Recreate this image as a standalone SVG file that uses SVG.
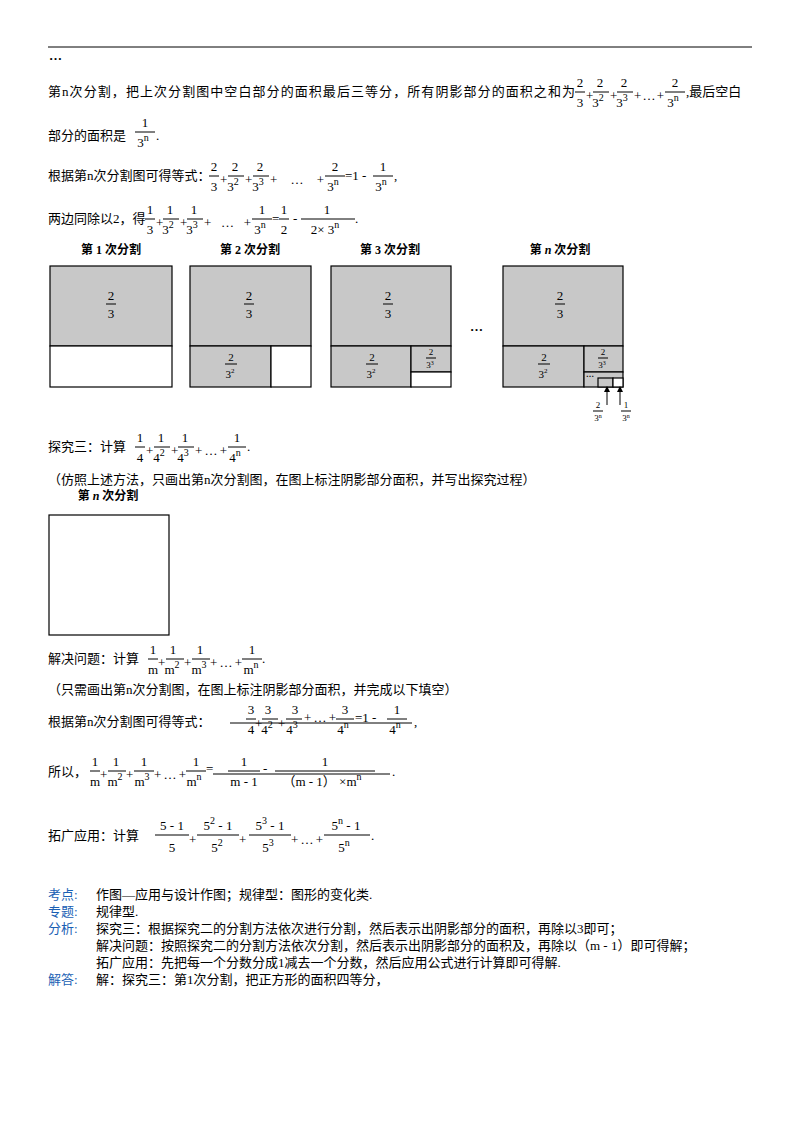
<svg xmlns="http://www.w3.org/2000/svg" width="800" height="1132" viewBox="0 0 800 1132">
<style>
text{font-family:"Liberation Serif","Noto Sans CJK SC",serif;font-size:13px;fill:#000}
.c{text-anchor:middle}
.s{font-size:10px}
.b{fill:#1a5fb4}
.t{font-weight:bold;font-size:12px}
line{stroke:#000;stroke-width:1}
.sh{fill:#c8c8c8;stroke:#000;stroke-width:1.2}
.w{fill:#fff;stroke:#000;stroke-width:1.2}
.fs{font-size:11px}
</style>
<rect width="800" height="1132" fill="#fff"/>
<line x1="48" y1="47" x2="752" y2="47"/>
<text x="49" y="60" font-weight="bold">…</text>

<!-- line 1 -->
<text x="48" y="96" textLength="527">第n次分割，把上次分割图中空白部分的面积最后三等分，所有阴影部分的面积之和为</text>
<text class="c" x="580" y="87">2</text><line x1="575" y1="92" x2="585" y2="92"/><text class="c" x="580" y="107">3</text>
<text x="586" y="100">+</text>
<text class="c" x="600" y="87">2</text><line x1="593" y1="92" x2="609" y2="92"/><text class="c" x="598" y="107">3<tspan class="s" dy="-6">2</tspan></text>
<text x="610" y="100">+</text>
<text class="c" x="624" y="87">2</text><line x1="617" y1="92" x2="633" y2="92"/><text class="c" x="622" y="107">3<tspan class="s" dy="-6">3</tspan></text>
<text x="634" y="100" textLength="30">+…+</text>
<text class="c" x="675" y="87">2</text><line x1="665" y1="92" x2="685" y2="92"/><text class="c" x="673" y="107">3<tspan class="s" dy="-6">n</tspan></text>
<text x="686" y="96">,最后空白</text>
<text x="48" y="140">部分的面积是</text>
<text class="c" x="145" y="127">1</text><line x1="135" y1="132" x2="155" y2="132"/><text class="c" x="143" y="147">3<tspan class="s" dy="-6">n</tspan></text>
<text x="156" y="140">.</text>

<!-- line 3 -->
<text x="48" y="180">根据第n次分割图可得等式：</text>
<text class="c" x="214" y="171">2</text><line x1="209" y1="176" x2="219" y2="176"/><text class="c" x="214" y="191">3</text>
<text x="220" y="184">+</text>
<text class="c" x="235" y="171">2</text><line x1="228" y1="176" x2="244" y2="176"/><text class="c" x="233" y="191">3<tspan class="s" dy="-6">2</tspan></text>
<text x="245" y="184">+</text>
<text class="c" x="260" y="171">2</text><line x1="253" y1="176" x2="269" y2="176"/><text class="c" x="258" y="191">3<tspan class="s" dy="-6">3</tspan></text>
<text x="270" y="184" textLength="54">+…+</text>
<text class="c" x="335" y="171">2</text><line x1="325" y1="176" x2="345" y2="176"/><text class="c" x="333" y="191">3<tspan class="s" dy="-6">n</tspan></text>
<text x="345" y="180">=1 -</text>
<text class="c" x="383" y="171">1</text><line x1="373" y1="176" x2="393" y2="176"/><text class="c" x="381" y="191">3<tspan class="s" dy="-6">n</tspan></text>
<text x="394" y="180">,</text>

<!-- line 4 -->
<text x="48" y="223">两边同除以2，得</text>
<text class="c" x="150" y="214">1</text><line x1="145" y1="219" x2="155" y2="219"/><text class="c" x="150" y="234">3</text>
<text x="156" y="227">+</text>
<text class="c" x="170" y="214">1</text><line x1="163" y1="219" x2="179" y2="219"/><text class="c" x="168" y="234">3<tspan class="s" dy="-6">2</tspan></text>
<text x="180" y="227">+</text>
<text class="c" x="194" y="214">1</text><line x1="187" y1="219" x2="203" y2="219"/><text class="c" x="192" y="234">3<tspan class="s" dy="-6">3</tspan></text>
<text x="204" y="227" textLength="47">+…+</text>
<text class="c" x="262" y="214">1</text><line x1="252" y1="219" x2="272" y2="219"/><text class="c" x="260" y="234">3<tspan class="s" dy="-6">n</tspan></text>
<text x="272" y="223">=</text>
<text class="c" x="284" y="214">1</text><line x1="279" y1="219" x2="289" y2="219"/><text class="c" x="284" y="234">2</text>
<text x="293" y="223">-</text>
<text class="c" x="327" y="214">1</text><line x1="301" y1="219" x2="355" y2="219"/><text class="c" x="325" y="234">2× 3<tspan class="s" dy="-6">n</tspan></text>
<text x="355" y="223">.</text>

<!-- figures -->
<g id="fig1">
<text class="t c" x="111" y="254">第 1 次分割</text>
<rect class="sh" x="50" y="266" width="122" height="80"/>
<rect class="w" x="50" y="346" width="122" height="41"/>
<text class="c" x="111" y="300">2</text><line x1="106" y1="304" x2="116" y2="304"/><text class="c" x="111" y="318">3</text>
</g>
<g id="fig2">
<text class="t c" x="250" y="254">第 2 次分割</text>
<rect class="sh" x="190" y="266" width="121" height="80"/>
<rect class="sh" x="190" y="346" width="81" height="41"/>
<rect class="w" x="271" y="346" width="40" height="41"/>
<text class="c" x="249" y="300">2</text><line x1="244" y1="304" x2="254" y2="304"/><text class="c" x="249" y="318">3</text>
<text class="c fs" x="231" y="361">2</text><line x1="225" y1="364" x2="237" y2="364"/><text class="c fs" x="230" y="378">3<tspan style="font-size:7px" dy="-5">2</tspan></text>
</g>
<g id="fig3">
<text class="t c" x="390" y="254">第 3 次分割</text>
<rect class="sh" x="331" y="266" width="120" height="80"/>
<rect class="sh" x="331" y="346" width="80" height="41"/>
<rect class="sh" x="411" y="346" width="40" height="26"/>
<rect class="w" x="411" y="372" width="40" height="15"/>
<text class="c" x="388" y="300">2</text><line x1="383" y1="304" x2="393" y2="304"/><text class="c" x="388" y="318">3</text>
<text class="c fs" x="372" y="361">2</text><line x1="366" y1="364" x2="378" y2="364"/><text class="c fs" x="371" y="378">3<tspan style="font-size:7px" dy="-5">2</tspan></text>
<text class="c" style="font-size:9px" x="431" y="355">2</text><line x1="426" y1="358" x2="436" y2="358"/><text class="c" style="font-size:9px" x="430" y="368">3<tspan style="font-size:6px" dy="-3">3</tspan></text>
</g>
<text x="470" y="331" font-weight="bold">…</text>
<g id="fign">
<text class="t c" x="560" y="254">第 <tspan font-style="italic">n</tspan> 次分割</text>
<rect class="sh" x="503" y="266" width="120" height="80"/>
<rect class="sh" x="503" y="346" width="81" height="41"/>
<rect class="sh" x="584" y="346" width="39" height="26"/>
<rect class="sh" x="584" y="372" width="39" height="15"/>
<rect class="sh" x="598" y="378" width="15" height="9"/>
<rect class="w" x="613" y="378" width="10" height="9"/>
<text x="586" y="377" style="font-size:8px" font-weight="bold">…</text>
<text class="c" x="560" y="300">2</text><line x1="555" y1="304" x2="565" y2="304"/><text class="c" x="560" y="318">3</text>
<text class="c fs" x="544" y="361">2</text><line x1="538" y1="364" x2="550" y2="364"/><text class="c fs" x="543" y="378">3<tspan style="font-size:7px" dy="-5">2</tspan></text>
<text class="c" style="font-size:9px" x="603" y="355">2</text><line x1="598" y1="358" x2="608" y2="358"/><text class="c" style="font-size:9px" x="602" y="368">3<tspan style="font-size:6px" dy="-3">3</tspan></text>
<line x1="607" y1="405" x2="607" y2="390"/><path d="M604,392 L607,386 L610,392 Z"/>
<line x1="620" y1="405" x2="620" y2="390"/><path d="M617,392 L620,386 L623,392 Z"/>
<text class="c" style="font-size:9px" x="598" y="408">2</text><line x1="593" y1="411" x2="603" y2="411"/><text class="c" style="font-size:9px" x="598" y="421">3<tspan style="font-size:6px" dy="-3">n</tspan></text>
<text class="c" style="font-size:9px" x="626" y="408">1</text><line x1="621" y1="411" x2="631" y2="411"/><text class="c" style="font-size:9px" x="626" y="421">3<tspan style="font-size:6px" dy="-3">n</tspan></text>
</g>

<!-- 探究三 -->
<text x="48" y="451">探究三：计算</text>
<text class="c" x="140" y="442">1</text><line x1="135" y1="447" x2="145" y2="447"/><text class="c" x="140" y="462">4</text>
<text x="146" y="455">+</text>
<text class="c" x="161" y="442">1</text><line x1="154" y1="447" x2="170" y2="447"/><text class="c" x="159" y="462">4<tspan class="s" dy="-6">2</tspan></text>
<text x="171" y="455">+</text>
<text class="c" x="185" y="442">1</text><line x1="178" y1="447" x2="194" y2="447"/><text class="c" x="183" y="462">4<tspan class="s" dy="-6">3</tspan></text>
<text x="195" y="455" textLength="32">+…+</text>
<text class="c" x="237" y="442">1</text><line x1="228" y1="447" x2="246" y2="447"/><text class="c" x="235" y="462">4<tspan class="s" dy="-6">n</tspan></text>
<text x="247" y="451">.</text>
<text x="48" y="484">（仿照上述方法，只画出第n次分割图，在图上标注阴影部分面积，并写出探究过程）</text>
<g id="fig-empty">
<text class="t c" x="108" y="500">第 <tspan font-style="italic">n</tspan> 次分割</text>
<rect x="49" y="515" width="120" height="120" fill="#fff" stroke="#000" stroke-width="1.2"/>
</g>

<!-- 解决问题 -->
<text x="48" y="663">解决问题：计算</text>
<text class="c" x="153" y="654">1</text><line x1="148" y1="659" x2="158" y2="659"/><text class="c" x="153" y="674">m</text>
<text x="158" y="667">+</text>
<text class="c" x="173" y="654">1</text><line x1="166" y1="659" x2="184" y2="659"/><text class="c" x="172" y="674">m<tspan class="s" dy="-6">2</tspan></text>
<text x="184" y="667">+</text>
<text class="c" x="200" y="654">1</text><line x1="192" y1="659" x2="210" y2="659"/><text class="c" x="199" y="674">m<tspan class="s" dy="-6">3</tspan></text>
<text x="210" y="667" textLength="32">+…+</text>
<text class="c" x="252" y="654">1</text><line x1="242" y1="659" x2="262" y2="659"/><text class="c" x="251" y="674">m<tspan class="s" dy="-6">n</tspan></text>
<text x="262" y="663">.</text>
<text x="48" y="694">（只需画出第n次分割图，在图上标注阴影部分面积，并完成以下填空）</text>
<text x="48" y="726">根据第n次分割图可得等式：</text>
<line x1="230" y1="723" x2="412" y2="723"/>
<text class="c" x="251" y="714">3</text><line x1="246" y1="719" x2="256" y2="719"/><text class="c" x="251" y="734">4</text>
<text x="255" y="728">+</text>
<text class="c" x="268" y="714">3</text><line x1="262" y1="719" x2="278" y2="719"/><text class="c" x="267" y="734">4<tspan class="s" dy="-6">2</tspan></text>
<text x="278" y="728">+</text>
<text class="c" x="295" y="714">3</text><line x1="286" y1="719" x2="302" y2="719"/><text class="c" x="292" y="734">4<tspan class="s" dy="-6">3</tspan></text>
<text x="304" y="722" textLength="32">+…+</text>
<text class="c" x="345" y="714">3</text><line x1="336" y1="719" x2="354" y2="719"/><text class="c" x="343" y="734">4<tspan class="s" dy="-6">n</tspan></text>
<text x="355" y="722">=1 -</text>
<text class="c" x="397" y="714">1</text><line x1="387" y1="719" x2="407" y2="719"/><text class="c" x="395" y="734">4<tspan class="s" dy="-6">n</tspan></text>
<text x="414" y="726">,</text>

<text x="48" y="776">所以，</text>
<text class="c" x="95" y="766">1</text><line x1="90" y1="771" x2="100" y2="771"/><text class="c" x="95" y="786">m</text>
<text x="100" y="779">+</text>
<text class="c" x="116" y="766">1</text><line x1="108" y1="771" x2="126" y2="771"/><text class="c" x="115" y="786">m<tspan class="s" dy="-6">2</tspan></text>
<text x="126" y="779">+</text>
<text class="c" x="144" y="766">1</text><line x1="134" y1="771" x2="154" y2="771"/><text class="c" x="142" y="786">m<tspan class="s" dy="-6">3</tspan></text>
<text x="154" y="779" textLength="32">+…+</text>
<text class="c" x="196" y="766">1</text><line x1="186" y1="771" x2="206" y2="771"/><text class="c" x="194" y="786">m<tspan class="s" dy="-6">n</tspan></text>
<text x="206" y="773">=</text>
<line x1="213" y1="774" x2="390" y2="774"/>
<text class="c" x="244" y="766">1</text><line x1="228" y1="771" x2="260" y2="771"/><text class="c" x="244" y="786">m - 1</text>
<text x="263" y="773">-</text>
<text class="c" x="325" y="766">1</text><line x1="275" y1="771" x2="375" y2="771"/><text class="c" x="322" y="786">（m - 1） ×m<tspan class="s" dy="-6">n</tspan></text>
<text x="392" y="776">.</text>

<text x="48" y="840">拓广应用：计算</text>
<text class="c" x="172" y="830">5 - 1</text><line x1="155" y1="835" x2="189" y2="835"/><text class="c" x="172" y="852">5</text>
<text x="189" y="844">+</text>
<text class="c" x="218" y="830">5<tspan class="s" dy="-6">2</tspan><tspan dy="6"> - 1</tspan></text><line x1="197" y1="835" x2="239" y2="835"/><text class="c" x="217" y="852">5<tspan class="s" dy="-6">2</tspan></text>
<text x="239" y="844">+</text>
<text class="c" x="270" y="830">5<tspan class="s" dy="-6">3</tspan><tspan dy="6"> - 1</tspan></text><line x1="249" y1="835" x2="291" y2="835"/><text class="c" x="268" y="852">5<tspan class="s" dy="-6">3</tspan></text>
<text x="291" y="844" textLength="32">+…+</text>
<text class="c" x="346" y="830">5<tspan class="s" dy="-6">n</tspan><tspan dy="6"> - 1</tspan></text><line x1="324" y1="835" x2="370" y2="835"/><text class="c" x="344" y="852">5<tspan class="s" dy="-6">n</tspan></text>
<text x="371" y="840">.</text>

<text class="b" x="48" y="899">考点:</text><text x="96" y="899">作图—应用与设计作图；规律型：图形的变化类.</text>
<text class="b" x="48" y="916">专题:</text><text x="96" y="916">规律型.</text>
<text class="b" x="48" y="933">分析:</text><text x="96" y="933">探究三：根据探究二的分割方法依次进行分割，然后表示出阴影部分的面积，再除以3即可；</text>
<text x="96" y="950">解决问题：按照探究二的分割方法依次分割，然后表示出阴影部分的面积及，再除以（m - 1）即可得解；</text>
<text x="96" y="967">拓广应用：先把每一个分数分成1减去一个分数，然后应用公式进行计算即可得解.</text>
<text class="b" x="48" y="984">解答:</text><text x="96" y="984">解：探究三：第1次分割，把正方形的面积四等分，</text>
</svg>
